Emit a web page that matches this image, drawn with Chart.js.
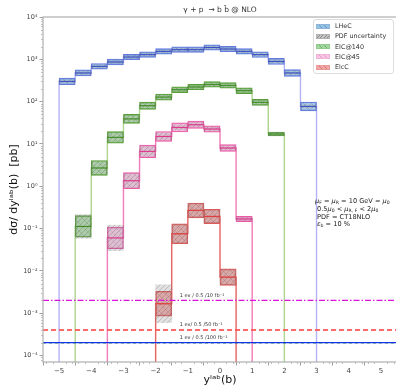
<!DOCTYPE html>
<html>
<head>
<meta charset="utf-8">
<script src="https://cdn.jsdelivr.net/npm/chart.js@4.4.1/dist/chart.umd.min.js"></script>
<style>
  html, body { margin: 0; padding: 0; background: #fff; overflow: hidden; }
  #wrap { position: relative; width: 400px; height: 389px; }
  #legend {
    position: absolute; left: 313px; top: 19px; width: 79px; height: 53px;
    border: 1px solid #dcdcdc; border-radius: 3px; background: rgba(255,255,255,0.85);
    font-family: 'DejaVu Sans'; font-size: 6.4px; color: #333;
  }
  #legend .row { position: absolute; left: 0; height: 8px; line-height: 8px; white-space: nowrap; }
  #legend .sw { position: absolute; left: 2px; top: 1.5px; width: 14px; height: 5px; box-sizing: border-box; border: 0.6px solid; }
  #legend .txt { position: absolute; left: 21px; top: 0; }
  #notes {
    position: absolute; left: 315px; top: 198px;
    font-family: 'DejaVu Sans'; font-size: 6.6px; line-height: 7.8px; color: #222; white-space: nowrap;
  }
  #notes sub { font-size: 4.6px; vertical-align: -1px; line-height: 0; }
  #notes div + div { padding-left: 2px; }
</style>
</head>
<body>
<div id="wrap">
  <canvas id="chart" width="400" height="389"></canvas>
  <div id="legend"></div>
  <div id="notes">
    <div><i>μ</i><sub>F</sub> = <i>μ</i><sub>R</sub> = 10 GeV = <i>μ</i><sub>0</sub></div>
    <div>0.5<i>μ</i><sub>0</sub> &lt; <i>μ</i><sub>R, F</sub> &lt; 2<i>μ</i><sub>0</sub></div>
    <div>PDF = CT18NLO</div>
    <div><i>ε</i><sub>b</sub> = 10 %</div>
  </div>
</div>
<script>
// bins are 0.5 wide in y_lab(b); each sample starts at its own lower edge
const binWidth = 0.5;

const lhecStart = -5;
const lhecXsec = [300, 475, 680, 865, 1130, 1290, 1540, 1690, 1690, 1900, 1750, 1540, 1290, 890, 475, 77];
const lhecScale = [1.2, 1.18, 1.17, 1.17, 1.16, 1.16, 1.16, 1.16, 1.16, 1.16, 1.16, 1.16, 1.17, 1.18, 1.2, 1.27];
const lhecPdf = [1.08, 1.07, 1.07, 1.06, 1.06, 1.06, 1.06, 1.06, 1.06, 1.06, 1.06, 1.06, 1.06, 1.07, 1.08, 1.1];

const eic140Start = -4.5;
const eic140Xsec = [0.112, 2.7, 14.3, 39, 80, 128, 191, 221, 255, 242, 181, 96, 17.1];
const eic140Scale = [1.8, 1.5, 1.37, 1.28, 1.22, 1.18, 1.17, 1.16, 1.16, 1.16, 1.17, 1.18, 1.11];
const eic140Pdf = [1.9, 1.4, 1.25, 1.18, 1.13, 1.1, 1.08, 1.07, 1.07, 1.07, 1.08, 1.1, 1.08];

const eic45Start = -3.5;
const eic45Xsec = [0.06, 1.35, 6.65, 15, 24.5, 28.4, 22.5, 8.0, 0.168];
const eic45Scale = [1.8, 1.55, 1.41, 1.31, 1.28, 1.22, 1.19, 1.2, 1.15];
const eic45Pdf = [2.0, 1.45, 1.3, 1.2, 1.15, 1.12, 1.1, 1.1, 1.08];

const elcStart = -2;
const elcXsec = [0.00167, 0.075, 0.268, 0.193, 0.0071];
const elcScale = [1.97, 1.72, 1.5, 1.48, 1.57];
const elcPdf = [2.8, 1.65, 1.45, 1.42, 1.5];

// one event per bin for 10, 50 and 100 fb^-1 with eps_b = 10 %
const eventLevels = [2e-3, 4e-4, 2e-4];
const eventLabels = ['1 ev / 0.5 /10 fb⁻¹', '1 ev/ 0.5 /50 fb⁻¹', '1 ev / 0.5 /100 fb⁻¹'];

const yTickExps = [-4, -3, -2, -1, 0, 1, 2, 3, 4];
const xTickValues = [-5, -4, -3, -2, -1, 0, 1, 2, 3, 4, 5];

const legendNames = ['LHeC', 'PDF uncertainty', 'EIC@140', 'EIC@45', 'ElcC'];
const legendFills = [
  'repeating-linear-gradient(45deg, #93c2e4 0 3px, #6c98c8 3px 3.8px)',
  'repeating-linear-gradient(135deg, #c4c4c4 0 1.6px, #8c8c8c 1.6px 2.4px)',
  'repeating-linear-gradient(45deg, #a3d9a0 0 3px, #6fae68 3px 3.8px)',
  'repeating-linear-gradient(45deg, #f7c6e4 0 3px, #e99ac8 3px 3.8px)',
  'repeating-linear-gradient(45deg, #f3a6a6 0 3px, #d97777 3px 3.8px)',
];
const legendEdges = ['#8fb4d8', '#b0b0b0', '#94c98e', '#f0b3d6', '#eb9a9a'];

const Y_MIN = 7.1e-5;
const Y_MAX = 1e4;
const FLOOR = 1e-7; // histogram edges drop below the axis

const canvas = document.getElementById('chart');
const ctx = canvas.getContext('2d');

function hatch(fill, line, forward, gap) {
  const c = document.createElement('canvas');
  c.width = gap; c.height = gap;
  const g = c.getContext('2d');
  g.fillStyle = fill;
  g.fillRect(0, 0, gap, gap);
  g.strokeStyle = line;
  g.lineWidth = 0.7;
  g.beginPath();
  if (forward) {
    g.moveTo(-1, gap + 1); g.lineTo(gap + 1, -1);
  } else {
    g.moveTo(-1, -1); g.lineTo(gap + 1, gap + 1);
  }
  g.stroke();
  return ctx.createPattern(c, 'repeat');
}

const pdfFill = hatch('rgba(130,130,130,0.24)', 'rgba(95,95,95,0.4)', true, 5);

const samples = [
  { start: lhecStart, xsec: lhecXsec, scale: lhecScale, pdf: lhecPdf,
    fill: hatch('rgba(125,178,218,0.6)', 'rgba(80,120,180,0.45)', false, 8),
    edge: '#6677dd', centre: '#3b4cc4', step: '#b3b3f3' },
  { start: eic140Start, xsec: eic140Xsec, scale: eic140Scale, pdf: eic140Pdf,
    fill: hatch('rgba(135,205,125,0.58)', 'rgba(70,140,60,0.4)', false, 8),
    edge: '#5a9d3a', centre: '#3d8a22', step: '#aed68e' },
  { start: eic45Start, xsec: eic45Xsec, scale: eic45Scale, pdf: eic45Pdf,
    fill: hatch('rgba(246,178,218,0.58)', 'rgba(220,110,175,0.4)', false, 8),
    edge: '#ea5aa5', centre: '#e0368a', step: '#f07cba' },
  { start: elcStart, xsec: elcXsec, scale: elcScale, pdf: elcPdf,
    fill: hatch('rgba(236,125,125,0.58)', 'rgba(200,70,70,0.4)', false, 8),
    edge: '#e05a5a', centre: '#e03e3e', step: '#e86262' },
];

const datasets = [];

samples.forEach(s => {
  const mid = i => s.start + (i + 0.5) * binWidth;
  const step = [{ x: s.start, y: FLOOR }];
  const centre = [];
  s.xsec.forEach((v, i) => {
    const lo = s.start + i * binWidth;
    step.push({ x: lo, y: v }, { x: lo + binWidth, y: v });
    centre.push({ x: lo, y: v }, { x: lo + binWidth, y: v }, { x: lo + binWidth, y: null });
  });
  step.push({ x: s.start + s.xsec.length * binWidth, y: FLOOR });

  // histogram outline
  datasets.push({
    type: 'line', data: step, borderColor: s.step, borderWidth: 1.4,
    pointRadius: 0, order: 5,
  });
  // scale variation band
  datasets.push({
    type: 'bar', grouped: false, order: 4,
    data: s.xsec.map((v, i) => ({ x: mid(i), y: [v / s.scale[i], v * s.scale[i]] })),
    backgroundColor: s.fill, borderColor: s.edge, borderWidth: 1, borderSkipped: false,
    barPercentage: 1, categoryPercentage: 1,
  });
  // PDF band
  datasets.push({
    type: 'bar', grouped: false, order: 3,
    data: s.xsec.map((v, i) => ({ x: mid(i), y: [v / s.pdf[i], v * s.pdf[i]] })),
    backgroundColor: pdfFill, borderWidth: 0,
    barPercentage: 1, categoryPercentage: 1,
  });
  // central value
  datasets.push({
    type: 'line', data: centre, borderColor: s.centre, borderWidth: 1,
    pointRadius: 0, spanGaps: false, order: 2,
  });
});

// event-count reference lines
const levelStyles = [
  { color: '#dd11dd', width: 1.1, dash: [6, 2, 1.5, 2] },
  { color: 'rgba(255,80,80,0.85)', width: 2, dash: [5, 3] },
  { color: '#1133ee', width: 1.2, dash: [] },
];
datasets.push({
  type: 'line', data: [{ x: -5.5, y: eventLevels[2] }, { x: 5.5, y: eventLevels[2] }],
  borderColor: '#55aa33', borderWidth: 1.6, borderDash: [3, 3], pointRadius: 0, order: 1,
});
eventLevels.forEach((v, i) => {
  datasets.push({
    type: 'line', data: [{ x: -5.5, y: v }, { x: 5.5, y: v }],
    borderColor: levelStyles[i].color, borderWidth: levelStyles[i].width,
    borderDash: levelStyles[i].dash, pointRadius: 0, order: 0,
  });
});

const sup = { '-': '⁻', '0': '⁰', '1': '¹', '2': '²', '3': '³', '4': '⁴', '5': '⁵', '6': '⁶', '7': '⁷', '8': '⁸', '9': '⁹' };
const toSup = n => String(n).split('').map(c => sup[c]).join('');

// frame, minor ticks and the labels on the event lines
const extras = {
  id: 'extras',
  afterDatasetsDraw(chart) {
    const { ctx, scales: { x, y } } = chart;
    ctx.save();
    ctx.font = '5px "DejaVu Sans"';
    ctx.fillStyle = '#333';
    ctx.textBaseline = 'bottom';
    eventLabels.forEach((t, i) => {
      ctx.fillText(t, x.getPixelForValue(-1.25), y.getPixelForValue(eventLevels[i]) - 2.5);
    });
    ctx.restore();
  },
  afterDraw(chart) {
    const { ctx, chartArea: a, scales: { x, y } } = chart;
    ctx.save();
    ctx.strokeStyle = '#9a9a9a';
    ctx.lineWidth = 0.6;
    ctx.beginPath();
    for (let e = -5; e < 4; e++) {
      for (let k = 2; k <= 9; k++) {
        const v = k * Math.pow(10, e);
        if (v < Y_MIN || v > Y_MAX) continue;
        const py = Math.round(y.getPixelForValue(v)) + 0.5;
        ctx.moveTo(a.left - 2, py); ctx.lineTo(a.left, py);
      }
    }
    for (let k = -27; k <= 27; k++) {
      if (k % 5 === 0) continue;
      const px = Math.round(x.getPixelForValue(k * 0.2)) + 0.5;
      ctx.moveTo(px, a.bottom); ctx.lineTo(px, a.bottom + 2);
    }
    ctx.stroke();
    ctx.strokeStyle = '#b0b0b0';
    ctx.lineWidth = 1.2;
    ctx.strokeRect(a.left, a.top, a.right - a.left, a.bottom - a.top);
    ctx.restore();
  },
};

Chart.defaults.font.family = 'DejaVu Sans';

new Chart(ctx, {
  type: 'line',
  data: { datasets },
  options: {
    responsive: false,
    animation: false,
    layout: { padding: { top: 0, right: 3, left: 0, bottom: 0 } },
    plugins: {
      legend: { display: false },
      tooltip: { enabled: false },
      title: {
        display: true, fullSize: false,
        text: 'γ + p  → b b̄ @ NLO',
        color: '#333', font: { size: 7.5, weight: 'normal' },
        padding: { top: 6, bottom: 2 },
      },
    },
    scales: {
      x: {
        type: 'linear', min: -5.5, max: 5.5, offset: false,
        afterBuildTicks: s => { s.ticks = xTickValues.map(v => ({ value: v })); },
        afterFit: s => { s.height = 27; },
        grid: { drawOnChartArea: false, tickLength: 3.5, tickColor: '#888', tickWidth: 0.8 },
        border: { display: false },
        ticks: {
          color: '#444', font: { size: 7 }, padding: 1, maxRotation: 0,
          callback: v => (v < 0 ? '−' + Math.abs(v) : String(v)),
        },
        title: {
          display: true, text: 'yˡᵃᵇ(b)', color: '#111',
          font: { size: 11 }, padding: { top: 0, bottom: 2 },
        },
      },
      y: {
        type: 'logarithmic', min: Y_MIN, max: Y_MAX,
        afterBuildTicks: s => { s.ticks = yTickExps.map(e => ({ value: Math.pow(10, e) })); },
        afterFit: s => { s.width = 43; },
        grid: { drawOnChartArea: false, tickLength: 3.5, tickColor: '#888', tickWidth: 0.8 },
        border: { display: false },
        ticks: {
          color: '#444', font: { size: 6.5 }, padding: 2,
          callback: v => '10' + toSup(Math.round(Math.log10(v))),
        },
        title: {
          display: true, text: 'dσ/ dyˡᵃᵇ(b)  [pb]', color: '#111',
          font: { size: 11 }, padding: { top: 8, bottom: 0 },
        },
      },
    },
  },
  plugins: [extras],
});

// legend with hatched swatches
const legendBox = document.getElementById('legend');
legendNames.forEach((name, i) => {
  const row = document.createElement('div');
  row.className = 'row';
  row.style.top = (2 + i * 10.3) + 'px';
  const sw = document.createElement('span');
  sw.className = 'sw';
  sw.style.background = legendFills[i];
  sw.style.borderColor = legendEdges[i];
  const txt = document.createElement('span');
  txt.className = 'txt';
  txt.textContent = name;
  row.appendChild(sw);
  row.appendChild(txt);
  legendBox.appendChild(row);
});
</script>
</body>
</html>
